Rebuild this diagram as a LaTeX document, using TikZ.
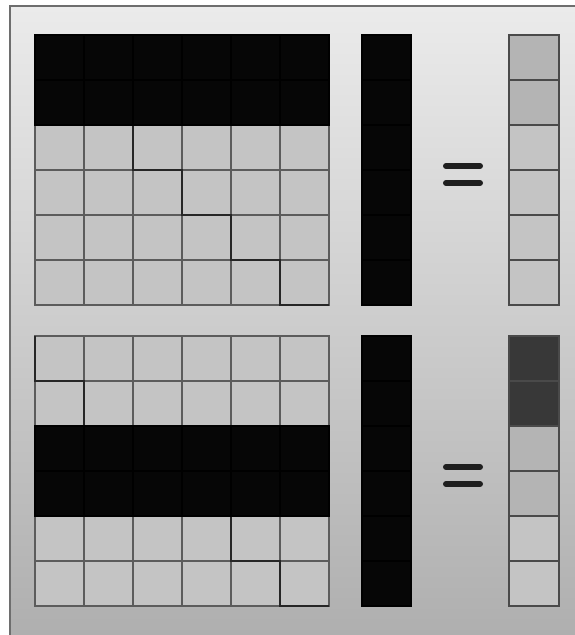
\documentclass[tikz,border=0pt]{standalone}
\usepackage{xcolor}
\usetikzlibrary{calc}
\definecolor{cInk}{RGB}{6,6,6}
\definecolor{cLight}{RGB}{196,196,196}
\definecolor{cMid}{RGB}{180,180,180}
\definecolor{cDark}{RGB}{56,56,56}
\definecolor{cLine}{RGB}{92,92,92}
\definecolor{cTop}{RGB}{235,235,235}
\definecolor{cBot}{RGB}{174,174,174}
\definecolor{cFrame}{RGB}{110,110,110}
% one block: #1 top y, #2 first black row of the matrix, #3 colours of the result
\newcommand{\mvblock}[3]{%
  \foreach \r in {0,...,5}
    \foreach \c in {0,...,5}
      \filldraw[lightcell] ({35+49*\c},{#1+45*\r}) rectangle ++(49,45);
  \draw[stair] (35,#1) \foreach \k in {1,...,6}{ -- ++(0,45) -- ++(49,0) };
  \foreach \c in {0,...,5}{
    \filldraw[inkcell] ({35+49*\c},{#1+45*#2}) rectangle ++(49,45);
    \filldraw[inkcell] ({35+49*\c},{#1+45*(#2+1)}) rectangle ++(49,45);
  }
  \foreach \r in {0,...,5}
    \filldraw[inkcell] (362,{#1+45*\r}) rectangle ++(49,45);
  \foreach \col [count=\r from 0] in {#3}
    \filldraw[rescell,fill=\col] (509,{#1+45*\r}) rectangle ++(50,45);
  \draw[eqbar] (446,{#1+131}) -- (480,{#1+131});
  \draw[eqbar] (446,{#1+148}) -- (480,{#1+148});
}

\begin{document}
\begin{tikzpicture}[x=1pt,y=-1pt,
   lightcell/.style={fill=cLight,draw=cLine,line width=1.3pt},
   inkcell/.style={fill=cInk,draw=black,line width=1.3pt},
   rescell/.style={draw=cLine!80!black,line width=1.4pt},
   stair/.style={draw=black!85,line width=1.6pt,line join=miter},
   eqbar/.style={draw=black!88,line width=6pt,line cap=round}]
  \useasboundingbox (0,0) rectangle (574,635);
  \fill[white] (0,0) rectangle (574,635);
  \shade[top color=cTop,bottom color=cBot] (10,6) rectangle (590,645);
  \draw[cFrame,line width=1.5pt] (10,6) rectangle (590,645);
  % upper block
  \mvblock{35}{0}{cMid,cMid,cLight,cLight,cLight,cLight}
  % lower block
  \mvblock{336}{2}{cDark,cDark,cMid,cMid,cLight,cLight}
\end{tikzpicture}
\end{document}
